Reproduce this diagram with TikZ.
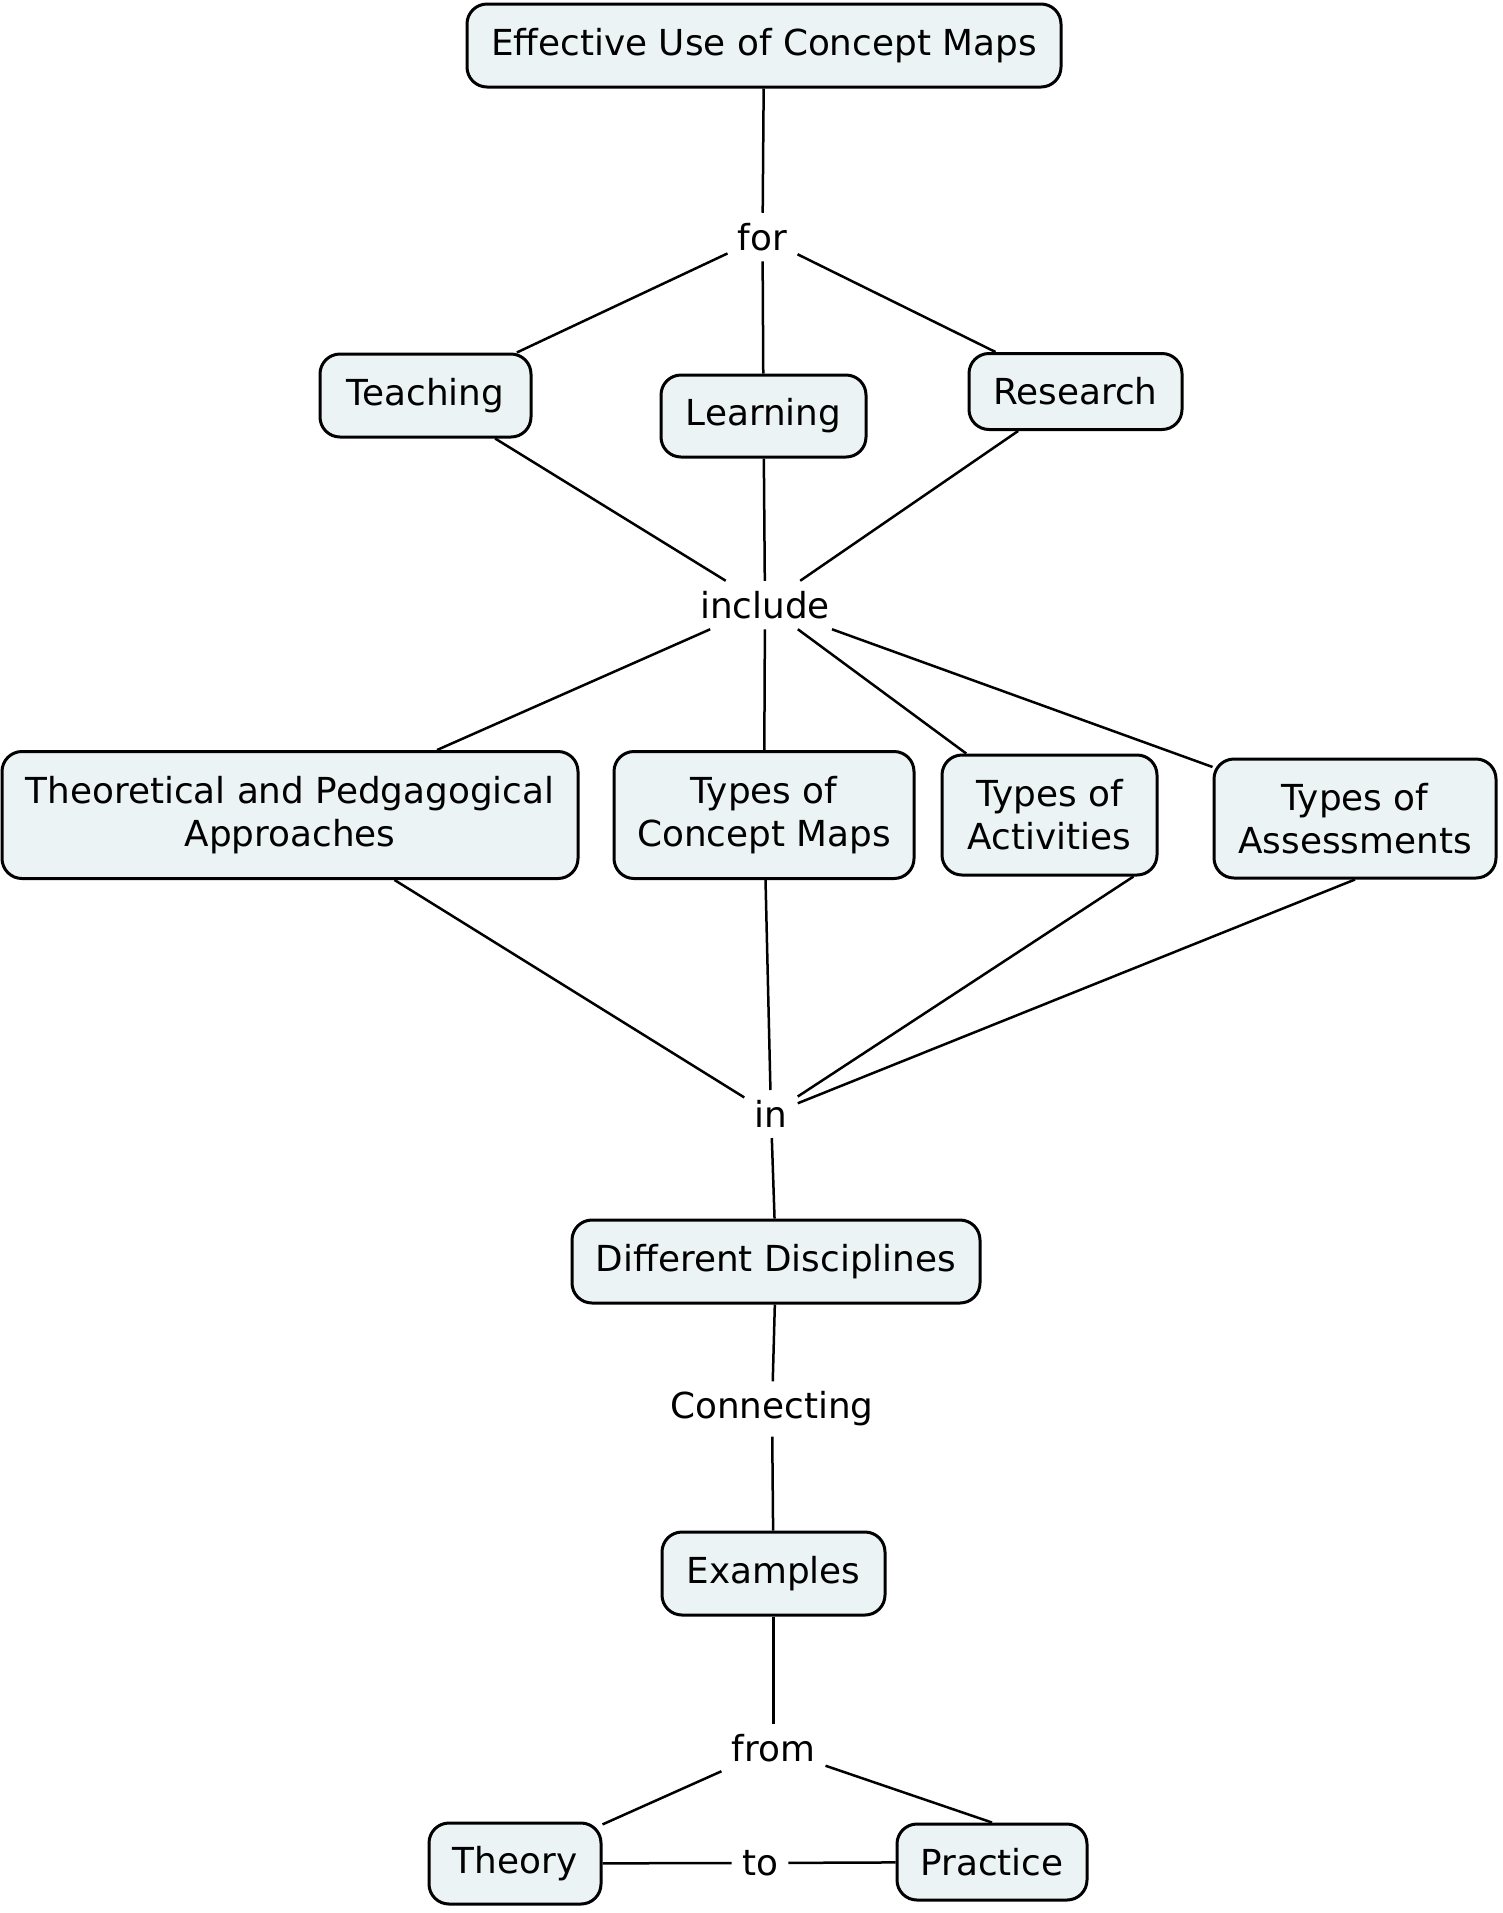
\documentclass[tikz,border=0pt]{standalone}
\usepackage{fontspec}
\setmainfont{DejaVu Sans}
\definecolor{boxfill}{RGB}{236,243,245}
\tikzset{
  concept/.style={draw=black, line width=1.5pt, rounded corners=10pt, fill=boxfill,
    align=center, font=\fontsize{17.9}{21.5}\selectfont, inner sep=0pt},
  linkword/.style={font=\fontsize{17.9}{21.5}\selectfont, inner sep=5pt},
  conn/.style={line width=1.25pt, draw=black}
}
\begin{document}
\begin{tikzpicture}[x=0.5pt,y=-0.5pt]
\useasboundingbox (0,0) rectangle (1503,1913);
% concepts
\node[concept, minimum width=297pt, minimum height=41.5pt] (eff) at (764,45.5) {Effective Use of Concept Maps};
\node[concept, minimum width=105.5pt, minimum height=41.5pt] (teach) at (425.5,395.5) {Teaching};
\node[concept, minimum width=102.5pt, minimum height=41pt] (learn) at (763.5,416) {Learning};
\node[concept, minimum width=106.5pt, minimum height=38pt] (research) at (1075.5,391.5) {Research};
\node[concept, minimum width=288pt, minimum height=63.5pt] (theo) at (290,815) {Theoretical and Pedgagogical\\Approaches};
\node[concept, minimum width=150pt, minimum height=63.5pt] (tcm) at (764,815) {Types of\\Concept Maps};
\node[concept, minimum width=107.5pt, minimum height=60pt] (tact) at (1049.5,815) {Types of\\Activities};
\node[concept, minimum width=141pt, minimum height=59.5pt] (tass) at (1355,818.5) {Types of\\Assessments};
\node[concept, minimum width=204pt, minimum height=41.5pt] (diff) at (776,1261.5) {Different Disciplines};
\node[concept, minimum width=111.5pt, minimum height=41.5pt] (ex) at (773.5,1573.5) {Examples};
\node[concept, minimum width=86pt, minimum height=40.5pt] (theory) at (515,1863.5) {Theory};
\node[concept, minimum width=95pt, minimum height=38pt] (practice) at (992,1862) {Practice};
% linking words
\node[linkword] (for) at (762.5,237) {for};
\node[linkword] (include) at (765,605) {include};
\node[linkword] (in) at (771,1114) {in};
\node[linkword] (connecting) at (772,1409) {Connecting};
\node[linkword] (from) at (773.5,1748) {from};
\node[linkword] (to) at (760,1863) {to};
% connectors
\draw[conn] (eff) -- (for);
\draw[conn] (for) -- (teach);
\draw[conn] (for) -- (learn);
\draw[conn] (for) -- (research);
\draw[conn] (teach) -- (include);
\draw[conn] (learn) -- (include);
\draw[conn] (research) -- (include);
\draw[conn] (include) -- (theo);
\draw[conn] (include) -- (tcm);
\draw[conn] (include) -- (tact);
\draw[conn] (include) -- (tass);
\draw[conn] (theo) -- (in);
\draw[conn] (tcm) -- (in);
\draw[conn] ([xshift=-12.5pt]tact.south east) -- (in);
\draw[conn] (tass.south) -- (in);
\draw[conn] (in) -- (diff);
\draw[conn] (diff) -- (connecting);
\draw[conn] (connecting) -- (ex);
\draw[conn] (ex) -- (from);
\draw[conn] (from) -- (theory);
\draw[conn] (from) -- (practice.north);
\draw[conn] (theory) -- (to);
\draw[conn] (to) -- (practice);
\end{tikzpicture}
\end{document}
